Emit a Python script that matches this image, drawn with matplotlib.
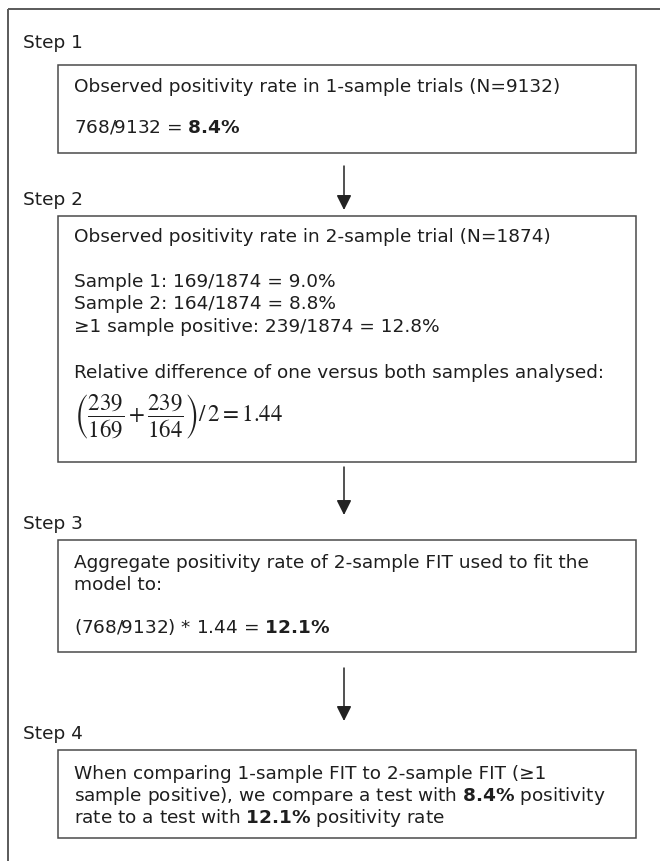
import matplotlib
matplotlib.use('Agg')
import matplotlib.pyplot as plt
from matplotlib.patches import Rectangle

plt.rcParams['font.family'] = 'DejaVu Sans'
plt.rcParams['mathtext.fontset'] = 'custom'
plt.rcParams['mathtext.rm'] = 'DejaVu Sans'
plt.rcParams['mathtext.bf'] = 'DejaVu Sans:bold'

# content of the flowchart
step_labels = ['Step 1', 'Step 2', 'Step 3', 'Step 4']

box1_lines = ['Observed positivity rate in 1-sample trials (N=9132)',
              r'768/9132 = $\mathbf{8.4\%}$']
box2_lines = ['Observed positivity rate in 2-sample trial (N=1874)',
              'Sample 1: 169/1874 = 9.0%',
              'Sample 2: 164/1874 = 8.8%',
              '\u22651 sample positive: 239/1874 = 12.8%',
              'Relative difference of one versus both samples analysed:']
box2_formula = r'$\left(\dfrac{239}{169}+\dfrac{239}{164}\right)/\,2=1.44$'
box3_lines = ['Aggregate positivity rate of 2-sample FIT used to fit the',
              'model to:',
              r'(768/9132) * 1.44 = $\mathbf{12.1\%}$']
box4_lines = ['When comparing 1-sample FIT to 2-sample FIT (\u22651',
              r'sample positive), we compare a test with $\mathbf{8.4\%}$ positivity',
              r'rate to a test with $\mathbf{12.1\%}$ positivity rate']

# layout in pixels (y measured from the top)
box_x0, box_x1 = 58, 636
box_tops = [66, 217, 541, 751]
box_bottoms = [154, 463, 653, 839]
label_y = [43, 200, 524, 734]
line_y = [[87, 128],
          [237, 282, 304, 327, 373],
          [563, 585, 627],
          [774, 796, 818]]
formula_y = 417
arrows = [(167, 211), (468, 516), (669, 722)]
arrow_x = 344

edge = '#4a4a4a'
ink = '#1e1e1e'
fs = 13.3

fig = plt.figure(figsize=(6.6, 8.62), dpi=100)
ax = fig.add_axes([0, 0, 1, 1])
ax.set_xlim(0, 660)
ax.set_ylim(862, 0)
ax.axis('off')

# outer frame, runs off the right and bottom edges
ax.add_patch(Rectangle((8, 10), 700, 900, fill=False, ec='#5a5a5a', lw=1.4))

all_lines = [box1_lines, box2_lines, box3_lines, box4_lines]
for i in range(4):
    ax.text(23, label_y[i], step_labels[i], fontsize=fs, color=ink,
            ha='left', va='center')
    ax.add_patch(Rectangle((box_x0, box_tops[i]), box_x1 - box_x0,
                           box_bottoms[i] - box_tops[i],
                           fill=False, ec=edge, lw=1.1))
    for txt, y in zip(all_lines[i], line_y[i]):
        ax.text(74, y, txt, fontsize=fs, color=ink, ha='left', va='center')

ax.text(74, formula_y, box2_formula, fontsize=16.5, color=ink, ha='left',
        va='center', math_fontfamily='stix')

for y0, y1 in arrows:
    ax.annotate('', xy=(arrow_x, y1), xytext=(arrow_x, y0),
                arrowprops=dict(arrowstyle='-|>,head_length=0.6,head_width=0.3',
                                color='#222222', lw=1.1, mutation_scale=15,
                                shrinkA=0, shrinkB=0))

fig.savefig('out.png', dpi=100)
